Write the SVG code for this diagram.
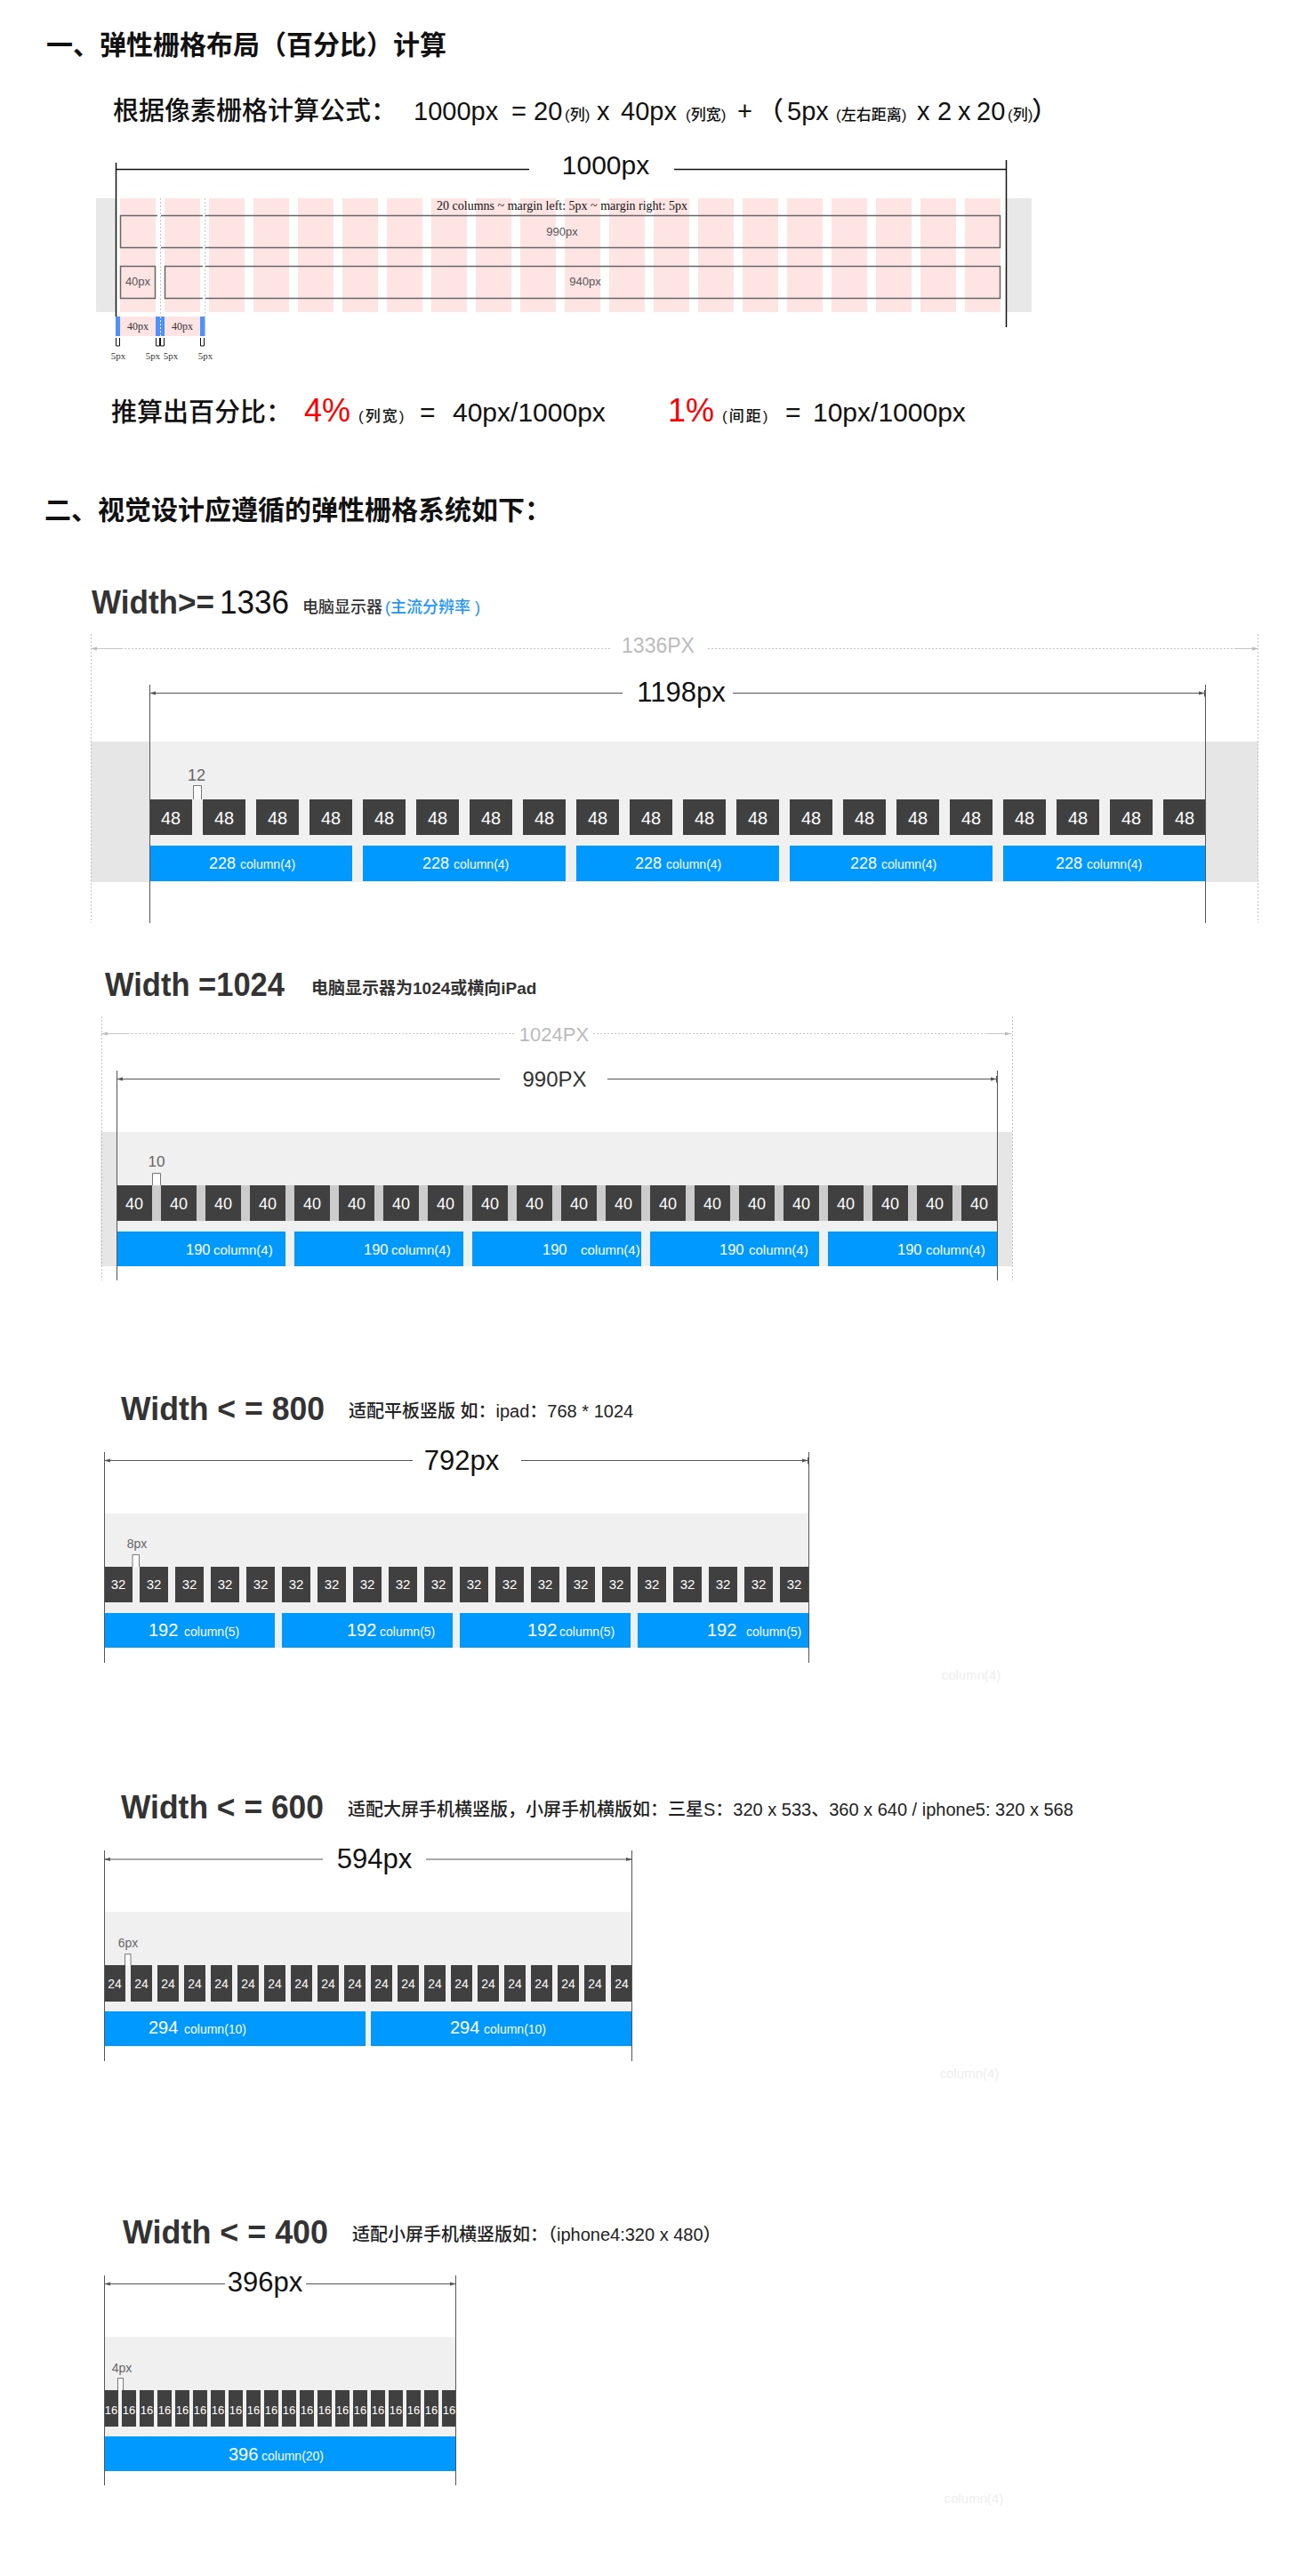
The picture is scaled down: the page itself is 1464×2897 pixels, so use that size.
<svg xmlns="http://www.w3.org/2000/svg" width="1464" height="2897" viewBox="0 0 1464 2897">
<defs>
<style>
.f{font-family:'Liberation Sans','Noto Sans CJK SC',sans-serif}
.s{font-family:'Liberation Serif','DejaVu Serif',serif}
.sq{fill:#404040}
.bar{fill:#0099FF}
.st{fill:#fff;text-anchor:middle;font-family:'Liberation Sans',sans-serif}
.bt{fill:#fff;font-family:'Liberation Sans',sans-serif}
.dl{stroke:#555;stroke-width:1;fill:none}
.vl{stroke:#555;stroke-width:1;fill:none}
.dot{stroke:#c4c4c4;stroke-width:1;stroke-dasharray:2 2;fill:none}
.gl{stroke:#c4c4c4;stroke-width:1;fill:none}
.br{stroke:#777;stroke-width:1;fill:#fff}
.gap{fill:#666;text-anchor:middle;font-family:'Liberation Sans',sans-serif}
.dim{fill:#111;text-anchor:middle;font-family:'Liberation Sans',sans-serif}
.gdim{fill:#bbb;text-anchor:middle;font-family:'Liberation Sans',sans-serif}
.band{fill:#F0F0F0}
.bandd{fill:#E6E6E6}
.pink{fill:#FFE4E4}
.box{fill:none;stroke:#666;stroke-width:1.5}
.faint{fill:#EEEEEE;text-anchor:middle;font-family:'Liberation Sans',sans-serif;font-size:15px}
.hd{font-family:'Liberation Sans',sans-serif;font-weight:700;fill:#333;font-size:36px}
.sub{font-family:'Liberation Sans','Noto Sans CJK SC',sans-serif;fill:#222;font-size:20px;font-weight:500}
</style>
<marker id="ar" viewBox="0 0 7 8" refX="7" refY="4" markerWidth="7" markerHeight="8" markerUnits="userSpaceOnUse" orient="auto-start-reverse"><path d="M0,2 L7,4 L0,6 z" fill="#555"/><path d="M6.5,0 V8" stroke="#555" stroke-width="1"/></marker>
<marker id="arg" viewBox="0 0 7 8" refX="7" refY="4" markerWidth="7" markerHeight="8" markerUnits="userSpaceOnUse" orient="auto-start-reverse"><path d="M0,2 L7,4 L0,6 z" fill="#bbb"/></marker>
</defs>
<rect width="1464" height="2897" fill="#fff"/>

<!-- Section 1 -->
<g id="title1">
<text class="f" x="52" y="61" font-size="30" font-weight="700" fill="#111">一、弹性栅格布局（百分比）计算</text>
</g>
<g id="formula" class="f" fill="#111" font-weight="500">
<text y="135"><tspan x="127" font-size="29">根据像素栅格计算公式：</tspan><tspan x="465" font-size="29">1000px</tspan><tspan x="575" font-size="29">=</tspan><tspan x="600" font-size="29">20</tspan><tspan x="635" font-size="17">(列)</tspan><tspan x="671" font-size="29">x</tspan><tspan x="698" font-size="29">40px</tspan><tspan x="771" font-size="17">(列宽)</tspan><tspan x="829" font-size="29">+</tspan><tspan x="852" font-size="29">（</tspan><tspan x="885" font-size="29">5px</tspan><tspan x="940" font-size="17">(左右距离)</tspan><tspan x="1031" font-size="29">x</tspan><tspan x="1054" font-size="29">2</tspan><tspan x="1077" font-size="29">x</tspan><tspan x="1098" font-size="29">20</tspan><tspan x="1133" font-size="17">(列)</tspan><tspan x="1160" font-size="29">）</tspan></text>
</g>
<g id="grid1000">
<rect x="108" y="223" width="1052" height="128" fill="#E8E8E8"/>
<rect x="130" y="223" width="1001" height="128" fill="#fff"/>
<g class="pink">
<rect x="135" y="223" width="40" height="128"/><rect x="185" y="223" width="40" height="128"/><rect x="235" y="223" width="40" height="128"/><rect x="285" y="223" width="40" height="128"/><rect x="335" y="223" width="40" height="128"/><rect x="385" y="223" width="40" height="128"/><rect x="435" y="223" width="40" height="128"/><rect x="485" y="223" width="40" height="128"/><rect x="535" y="223" width="40" height="128"/><rect x="585" y="223" width="40" height="128"/><rect x="635" y="223" width="40" height="128"/><rect x="685" y="223" width="40" height="128"/><rect x="735" y="223" width="40" height="128"/><rect x="785" y="223" width="40" height="128"/><rect x="835" y="223" width="40" height="128"/><rect x="885" y="223" width="40" height="128"/><rect x="935" y="223" width="40" height="128"/><rect x="985" y="223" width="40" height="128"/><rect x="1035" y="223" width="40" height="128"/><rect x="1085" y="223" width="40" height="128"/>
</g>
<text class="s" x="632" y="236" font-size="14" fill="#111" text-anchor="middle">20 columns ~ margin left: 5px ~ margin right: 5px</text>
<rect class="box" x="135.5" y="242.5" width="989" height="36"/>
<rect class="box" x="135.5" y="299.5" width="39" height="36"/>
<rect class="box" x="185.5" y="299.5" width="939" height="36"/>
<g fill="#fff">
<rect x="177" y="241" width="4" height="3"/><rect x="228" y="241" width="2.5" height="3"/>
<rect x="177" y="277" width="4" height="3"/><rect x="228" y="277" width="2.5" height="3"/>
<rect x="228" y="298" width="2.5" height="3"/><rect x="228" y="334" width="2.5" height="3"/>
</g>
<text x="632" y="265" font-size="13" fill="#555" text-anchor="middle" font-family="'Liberation Sans',sans-serif">990px</text>
<text x="658" y="321" font-size="13" fill="#555" text-anchor="middle" font-family="'Liberation Sans',sans-serif">940px</text>
<text x="155" y="321" font-size="13" fill="#555" text-anchor="middle" font-family="'Liberation Sans',sans-serif">40px</text>
<line x1="180.5" y1="223" x2="180.5" y2="356" class="dot" stroke="#aaa"/>
<line x1="230.5" y1="223" x2="230.5" y2="356" class="dot" stroke="#aaa"/>
<rect x="130" y="356" width="5" height="22" fill="#4D90FE"/>
<rect x="135" y="356" width="40" height="22" fill="#FFE4E4"/>
<rect x="175" y="356" width="10" height="22" fill="#4D90FE"/>
<rect x="185" y="356" width="40" height="22" fill="#FFE4E4"/>
<rect x="225" y="356" width="5.5" height="22" fill="#4D90FE"/>
<line x1="180.5" y1="356" x2="180.5" y2="378" stroke="#fff" stroke-width="1" stroke-dasharray="2 2"/>
<text class="s" x="155" y="371" font-size="12" fill="#333" text-anchor="middle">40px</text>
<text class="s" x="205" y="371" font-size="12" fill="#333" text-anchor="middle">40px</text>
<g fill="none" stroke="#111" stroke-width="1">
<path d="M130.5,380 V389 H134.5 V380"/><path d="M175.5,380 V389 H179.5 V380"/><path d="M180.5,380 V389 H184.5 V380"/><path d="M225.5,380 V389 H229.5 V380"/>
</g>
<g class="s" font-size="11" fill="#333" text-anchor="middle">
<text x="133" y="404">5px</text><text x="172" y="404">5px</text><text x="192" y="404">5px</text><text x="231" y="404">5px</text>
</g>
<text class="dim" x="681" y="196" font-size="30">1000px</text>
</g>
<g id="percent" class="f" font-weight="500" fill="#111">
<text y="474"><tspan x="125" font-size="29">推算出百分比：</tspan><tspan x="342" font-size="36" fill="#FF0000">4%</tspan><tspan x="403" font-size="17" letter-spacing="2">(列宽)</tspan><tspan x="472" font-size="30">=</tspan><tspan x="509" font-size="30">40px/1000px</tspan><tspan x="751" font-size="36" fill="#FF0000">1%</tspan><tspan x="812" font-size="17" letter-spacing="2">(间距)</tspan><tspan x="883" font-size="30">=</tspan><tspan x="914" font-size="30">10px/1000px</tspan></text>
</g>
<g id="title2">
<text class="f" x="50" y="584" font-size="30" font-weight="700" fill="#111">二、视觉设计应遵循的弹性栅格系统如下：</text>
</g>

<!-- Section 1336 -->
<g id="w1336">
<rect class="bandd" x="102" y="834" width="1313" height="158"/>
<rect class="band" x="168" y="834" width="1187" height="158"/>
<text class="hd" x="103" y="690" font-size="37" textLength="138" lengthAdjust="spacingAndGlyphs">Width&gt;=</text>
<text x="247" y="690" font-size="37" fill="#111" font-family="'Liberation Sans',sans-serif" textLength="78" lengthAdjust="spacingAndGlyphs">1336</text>
<text class="f" x="340" y="689" font-size="18" fill="#333" font-weight="500">电脑显示器</text>
<text class="f" x="433" y="689" font-size="18" fill="#2196F3" font-weight="500">(主流分辨率 )</text>
<text class="gdim" x="740" y="734" font-size="23">1336PX</text>
<text class="dim" x="766" y="789" font-size="31">1198px</text>
<g class="sq">
<rect x="168" y="899" width="48" height="40"/><rect x="228" y="899" width="48" height="40"/><rect x="288" y="899" width="48" height="40"/><rect x="348" y="899" width="48" height="40"/><rect x="408" y="899" width="48" height="40"/><rect x="468" y="899" width="48" height="40"/><rect x="528" y="899" width="48" height="40"/><rect x="588" y="899" width="48" height="40"/><rect x="648" y="899" width="48" height="40"/><rect x="708" y="899" width="48" height="40"/><rect x="768" y="899" width="48" height="40"/><rect x="828" y="899" width="48" height="40"/><rect x="888" y="899" width="48" height="40"/><rect x="948" y="899" width="48" height="40"/><rect x="1008" y="899" width="48" height="40"/><rect x="1068" y="899" width="48" height="40"/><rect x="1128" y="899" width="48" height="40"/><rect x="1188" y="899" width="48" height="40"/><rect x="1248" y="899" width="48" height="40"/><rect x="1308" y="899" width="48" height="40"/>
</g>
<text class="st" y="927" font-size="20"><tspan x="192">48</tspan><tspan x="252">48</tspan><tspan x="312">48</tspan><tspan x="372">48</tspan><tspan x="432">48</tspan><tspan x="492">48</tspan><tspan x="552">48</tspan><tspan x="612">48</tspan><tspan x="672">48</tspan><tspan x="732">48</tspan><tspan x="792">48</tspan><tspan x="852">48</tspan><tspan x="912">48</tspan><tspan x="972">48</tspan><tspan x="1032">48</tspan><tspan x="1092">48</tspan><tspan x="1152">48</tspan><tspan x="1212">48</tspan><tspan x="1272">48</tspan><tspan x="1332">48</tspan></text>
<path class="br" d="M217.5,899 V883.5 H226.5 V899"/>
<text class="gap" x="221" y="878" font-size="18">12</text>
<g class="bar">
<rect x="168" y="951" width="228" height="40"/><rect x="408" y="951" width="228" height="40"/><rect x="648" y="951" width="228" height="40"/><rect x="888" y="951" width="228" height="40"/><rect x="1128" y="951" width="228" height="40"/>
</g>
<text class="bt" y="977"><tspan x="235" font-size="18">228</tspan><tspan x="270" font-size="14">column(4)</tspan><tspan x="475" font-size="18">228</tspan><tspan x="510" font-size="14">column(4)</tspan><tspan x="714" font-size="18">228</tspan><tspan x="749" font-size="14">column(4)</tspan><tspan x="956" font-size="18">228</tspan><tspan x="991" font-size="14">column(4)</tspan><tspan x="1187" font-size="18">228</tspan><tspan x="1222" font-size="14">column(4)</tspan></text>
</g>

<!-- Section 1024 -->
<g id="w1024">
<rect class="bandd" x="113" y="1273" width="1025" height="151"/>
<rect class="band" x="131" y="1273" width="990" height="151"/>
<text class="hd" x="118" y="1120" textLength="202" lengthAdjust="spacingAndGlyphs">Width =1024</text>
<text class="f" x="350" y="1118" font-size="19" fill="#333" font-weight="700">电脑显示器为1024或横向iPad</text>
<text class="gdim" x="623" y="1171" font-size="22">1024PX</text>
<text x="623.5" y="1222" font-size="24" fill="#333" text-anchor="middle" font-family="'Liberation Sans',sans-serif">990PX</text>
<rect x="131" y="1333" width="990" height="40" fill="#CCCCCC"/>
<g class="sq">
<rect x="131" y="1333" width="40" height="40"/><rect x="181" y="1333" width="40" height="40"/><rect x="231" y="1333" width="40" height="40"/><rect x="281" y="1333" width="40" height="40"/><rect x="331" y="1333" width="40" height="40"/><rect x="381" y="1333" width="40" height="40"/><rect x="431" y="1333" width="40" height="40"/><rect x="481" y="1333" width="40" height="40"/><rect x="531" y="1333" width="40" height="40"/><rect x="581" y="1333" width="40" height="40"/><rect x="631" y="1333" width="40" height="40"/><rect x="681" y="1333" width="40" height="40"/><rect x="731" y="1333" width="40" height="40"/><rect x="781" y="1333" width="40" height="40"/><rect x="831" y="1333" width="40" height="40"/><rect x="881" y="1333" width="40" height="40"/><rect x="931" y="1333" width="40" height="40"/><rect x="981" y="1333" width="40" height="40"/><rect x="1031" y="1333" width="40" height="40"/><rect x="1081" y="1333" width="40" height="40"/>
</g>
<text class="st" y="1360" font-size="18"><tspan x="151">40</tspan><tspan x="201">40</tspan><tspan x="251">40</tspan><tspan x="301">40</tspan><tspan x="351">40</tspan><tspan x="401">40</tspan><tspan x="451">40</tspan><tspan x="501">40</tspan><tspan x="551">40</tspan><tspan x="601">40</tspan><tspan x="651">40</tspan><tspan x="701">40</tspan><tspan x="751">40</tspan><tspan x="801">40</tspan><tspan x="851">40</tspan><tspan x="901">40</tspan><tspan x="951">40</tspan><tspan x="1001">40</tspan><tspan x="1051">40</tspan><tspan x="1101">40</tspan></text>
<path class="br" d="M171.5,1333 V1319.5 H180.5 V1333"/>
<text class="gap" x="176" y="1312" font-size="17">10</text>
<g class="bar">
<rect x="131" y="1385" width="190" height="39"/><rect x="331" y="1385" width="190" height="39"/><rect x="531" y="1385" width="190" height="39"/><rect x="731" y="1385" width="190" height="39"/><rect x="931" y="1385" width="190" height="39"/>
</g>
<text class="bt" y="1411"><tspan x="209" font-size="16.5">190</tspan><tspan x="240" font-size="15">column(4)</tspan><tspan x="409" font-size="16.5">190</tspan><tspan x="440" font-size="15">column(4)</tspan><tspan x="610" font-size="16.5">190</tspan><tspan x="653" font-size="15">column(4)</tspan><tspan x="809" font-size="16.5">190</tspan><tspan x="842" font-size="15">column(4)</tspan><tspan x="1009" font-size="16.5">190</tspan><tspan x="1041" font-size="15">column(4)</tspan></text>
</g>

<!-- Section 800 -->
<g id="w800">
<rect class="band" x="117" y="1702" width="792" height="151"/>
<text class="hd" x="136" y="1597" textLength="229" lengthAdjust="spacingAndGlyphs">Width &lt; = 800</text>
<text class="sub" x="392" y="1594">适配平板竖版 如：ipad：768 * 1024</text>
<text class="dim" x="519" y="1653" font-size="31">792px</text>
<g class="sq">
<rect x="117" y="1762" width="32" height="40"/><rect x="157" y="1762" width="32" height="40"/><rect x="197" y="1762" width="32" height="40"/><rect x="237" y="1762" width="32" height="40"/><rect x="277" y="1762" width="32" height="40"/><rect x="317" y="1762" width="32" height="40"/><rect x="357" y="1762" width="32" height="40"/><rect x="397" y="1762" width="32" height="40"/><rect x="437" y="1762" width="32" height="40"/><rect x="477" y="1762" width="32" height="40"/><rect x="517" y="1762" width="32" height="40"/><rect x="557" y="1762" width="32" height="40"/><rect x="597" y="1762" width="32" height="40"/><rect x="637" y="1762" width="32" height="40"/><rect x="677" y="1762" width="32" height="40"/><rect x="717" y="1762" width="32" height="40"/><rect x="757" y="1762" width="32" height="40"/><rect x="797" y="1762" width="32" height="40"/><rect x="837" y="1762" width="32" height="40"/><rect x="877" y="1762" width="32" height="40"/>
</g>
<text class="st" y="1787" font-size="15"><tspan x="133">32</tspan><tspan x="173">32</tspan><tspan x="213">32</tspan><tspan x="253">32</tspan><tspan x="293">32</tspan><tspan x="333">32</tspan><tspan x="373">32</tspan><tspan x="413">32</tspan><tspan x="453">32</tspan><tspan x="493">32</tspan><tspan x="533">32</tspan><tspan x="573">32</tspan><tspan x="613">32</tspan><tspan x="653">32</tspan><tspan x="693">32</tspan><tspan x="733">32</tspan><tspan x="773">32</tspan><tspan x="813">32</tspan><tspan x="853">32</tspan><tspan x="893">32</tspan></text>
<path class="br" d="M149,1762 V1748.5 H156.5 V1762"/>
<text class="gap" x="154" y="1741" font-size="14">8px</text>
<g class="bar">
<rect x="117" y="1814" width="192" height="39"/><rect x="317" y="1814" width="192" height="39"/><rect x="517" y="1814" width="192" height="39"/><rect x="717" y="1814" width="192" height="39"/>
</g>
<text class="bt" y="1840"><tspan x="167" font-size="20">192</tspan><tspan x="207" font-size="14">column(5)</tspan><tspan x="390" font-size="20">192</tspan><tspan x="427" font-size="14">column(5)</tspan><tspan x="593" font-size="20">192</tspan><tspan x="629" font-size="14">column(5)</tspan><tspan x="795" font-size="20">192</tspan><tspan x="839" font-size="14">column(5)</tspan></text>
<text class="faint" x="1092" y="1889">column(4)</text>
</g>

<!-- Section 600 -->
<g id="w600">
<rect class="band" x="117" y="2150" width="594" height="151"/>
<text class="hd" x="136" y="2045" textLength="228" lengthAdjust="spacingAndGlyphs">Width &lt; = 600</text>
<text class="sub" x="391" y="2042">适配大屏手机横竖版，小屏手机横版如：三星S：320 x 533、360 x 640 / iphone5: 320 x 568</text>
<text class="dim" x="421" y="2101" font-size="31">594px</text>
<g class="sq">
<rect x="117" y="2210" width="24" height="41"/><rect x="147" y="2210" width="24" height="41"/><rect x="177" y="2210" width="24" height="41"/><rect x="207" y="2210" width="24" height="41"/><rect x="237" y="2210" width="24" height="41"/><rect x="267" y="2210" width="24" height="41"/><rect x="297" y="2210" width="24" height="41"/><rect x="327" y="2210" width="24" height="41"/><rect x="357" y="2210" width="24" height="41"/><rect x="387" y="2210" width="24" height="41"/><rect x="417" y="2210" width="24" height="41"/><rect x="447" y="2210" width="24" height="41"/><rect x="477" y="2210" width="24" height="41"/><rect x="507" y="2210" width="24" height="41"/><rect x="537" y="2210" width="24" height="41"/><rect x="567" y="2210" width="24" height="41"/><rect x="597" y="2210" width="24" height="41"/><rect x="627" y="2210" width="24" height="41"/><rect x="657" y="2210" width="24" height="41"/><rect x="687" y="2210" width="24" height="41"/>
</g>
<text class="st" y="2236" font-size="14"><tspan x="129">24</tspan><tspan x="159">24</tspan><tspan x="189">24</tspan><tspan x="219">24</tspan><tspan x="249">24</tspan><tspan x="279">24</tspan><tspan x="309">24</tspan><tspan x="339">24</tspan><tspan x="369">24</tspan><tspan x="399">24</tspan><tspan x="429">24</tspan><tspan x="459">24</tspan><tspan x="489">24</tspan><tspan x="519">24</tspan><tspan x="549">24</tspan><tspan x="579">24</tspan><tspan x="609">24</tspan><tspan x="639">24</tspan><tspan x="669">24</tspan><tspan x="699">24</tspan></text>
<path class="br" d="M140.5,2210 V2197.5 H147 V2210"/>
<text class="gap" x="144" y="2190" font-size="14">6px</text>
<g class="bar">
<rect x="117" y="2262" width="294" height="39"/><rect x="417" y="2262" width="294" height="39"/>
</g>
<text class="bt" y="2287"><tspan x="167" font-size="20">294</tspan><tspan x="207" font-size="14">column(10)</tspan><tspan x="506" font-size="20">294</tspan><tspan x="544" font-size="14">column(10)</tspan></text>
<text class="faint" x="1090" y="2337">column(4)</text>
</g>

<!-- Section 400 -->
<g id="w400">
<rect class="band" x="117" y="2628" width="396" height="151"/>
<text class="hd" x="138" y="2523" textLength="231" lengthAdjust="spacingAndGlyphs">Width &lt; = 400</text>
<text class="sub" x="396" y="2520">适配小屏手机横竖版如：（iphone4:320 x 480）</text>
<text class="dim" x="298" y="2577" font-size="31">396px</text>
<g class="sq">
<rect x="117" y="2688" width="16" height="41"/><rect x="137" y="2688" width="16" height="41"/><rect x="157" y="2688" width="16" height="41"/><rect x="177" y="2688" width="16" height="41"/><rect x="197" y="2688" width="16" height="41"/><rect x="217" y="2688" width="16" height="41"/><rect x="237" y="2688" width="16" height="41"/><rect x="257" y="2688" width="16" height="41"/><rect x="277" y="2688" width="16" height="41"/><rect x="297" y="2688" width="16" height="41"/><rect x="317" y="2688" width="16" height="41"/><rect x="337" y="2688" width="16" height="41"/><rect x="357" y="2688" width="16" height="41"/><rect x="377" y="2688" width="16" height="41"/><rect x="397" y="2688" width="16" height="41"/><rect x="417" y="2688" width="16" height="41"/><rect x="437" y="2688" width="16" height="41"/><rect x="457" y="2688" width="16" height="41"/><rect x="477" y="2688" width="16" height="41"/><rect x="497" y="2688" width="16" height="41"/>
</g>
<text class="st" y="2715" font-size="13"><tspan x="125">16</tspan><tspan x="145">16</tspan><tspan x="165">16</tspan><tspan x="185">16</tspan><tspan x="205">16</tspan><tspan x="225">16</tspan><tspan x="245">16</tspan><tspan x="265">16</tspan><tspan x="285">16</tspan><tspan x="305">16</tspan><tspan x="325">16</tspan><tspan x="345">16</tspan><tspan x="365">16</tspan><tspan x="385">16</tspan><tspan x="405">16</tspan><tspan x="425">16</tspan><tspan x="445">16</tspan><tspan x="465">16</tspan><tspan x="485">16</tspan><tspan x="505">16</tspan></text>
<path class="br" d="M132.5,2688 V2674.5 H138.5 V2688"/>
<text class="gap" x="137" y="2668" font-size="14">4px</text>
<rect class="bar" x="117" y="2740" width="396" height="39"/>
<text class="bt" y="2767"><tspan x="257" font-size="20">396</tspan><tspan x="294" font-size="14">column(20)</tspan></text>
<text class="faint" x="1095" y="2815">column(4)</text>
</g>

<!-- Connectors: dimension and guide lines -->
<g id="connectors">
<line x1="131" y1="190.5" x2="595" y2="190.5" stroke="#111" stroke-width="1.5"/>
<line x1="758" y1="190.5" x2="1131" y2="190.5" stroke="#111" stroke-width="1.5"/>
<line x1="130.5" y1="183" x2="130.5" y2="356" stroke="#111" stroke-width="1.5"/>
<line x1="1131.5" y1="180" x2="1131.5" y2="368" stroke="#111" stroke-width="1.5"/>

<line class="dot" x1="102.5" y1="713" x2="102.5" y2="1038"/>
<line class="dot" x1="1414.5" y1="713" x2="1414.5" y2="1038"/>
<line class="gl" x1="102" y1="729.5" x2="136" y2="729.5" marker-start="url(#arg)"/>
<line class="dot" x1="136" y1="729.5" x2="687" y2="729.5"/>
<line class="dot" x1="796" y1="729.5" x2="1390" y2="729.5"/>
<line class="gl" x1="1390" y1="729.5" x2="1415" y2="729.5" marker-end="url(#arg)"/>
<line class="dl" x1="168" y1="779.5" x2="700" y2="779.5" marker-start="url(#ar)"/>
<line class="dl" x1="824" y1="779.5" x2="1355" y2="779.5" marker-end="url(#ar)"/>
<line class="vl" x1="168.5" y1="770" x2="168.5" y2="1038"/>
<line class="vl" x1="1355.5" y1="770" x2="1355.5" y2="1038"/>

<line class="dot" x1="114.5" y1="1143" x2="114.5" y2="1440"/>
<line class="dot" x1="1138.5" y1="1143" x2="1138.5" y2="1440"/>
<line class="gl" x1="114" y1="1162.5" x2="144" y2="1162.5" marker-start="url(#arg)"/>
<line class="dot" x1="144" y1="1162.5" x2="578" y2="1162.5"/>
<line class="dot" x1="667" y1="1162.5" x2="1110" y2="1162.5"/>
<line class="gl" x1="1110" y1="1162.5" x2="1137" y2="1162.5" marker-end="url(#arg)"/>
<line class="dl" x1="131" y1="1213.5" x2="562" y2="1213.5" marker-start="url(#ar)"/>
<line class="dl" x1="683" y1="1213.5" x2="1121" y2="1213.5" marker-end="url(#ar)"/>
<line class="vl" x1="131.5" y1="1204" x2="131.5" y2="1440"/>
<line class="vl" x1="1121.5" y1="1204" x2="1121.5" y2="1440"/>

<line class="dl" x1="117" y1="1642.5" x2="464" y2="1642.5" marker-start="url(#ar)"/>
<line class="dl" x1="586" y1="1642.5" x2="909" y2="1642.5" marker-end="url(#ar)"/>
<line class="vl" x1="117.5" y1="1633" x2="117.5" y2="1870"/>
<line class="vl" x1="909.5" y1="1633" x2="909.5" y2="1870"/>

<line class="dl" x1="117" y1="2091" x2="363" y2="2091" marker-start="url(#ar)"/>
<line class="dl" x1="479" y1="2091" x2="711" y2="2091" marker-end="url(#ar)"/>
<line class="vl" x1="117.5" y1="2081" x2="117.5" y2="2318"/>
<line class="vl" x1="710.5" y1="2081" x2="710.5" y2="2318"/>

<line class="dl" x1="117" y1="2568.5" x2="253" y2="2568.5" marker-start="url(#ar)"/>
<line class="dl" x1="344" y1="2568.5" x2="513" y2="2568.5" marker-end="url(#ar)"/>
<line class="vl" x1="117.5" y1="2559" x2="117.5" y2="2795"/>
<line class="vl" x1="512.5" y1="2559" x2="512.5" y2="2795"/>
</g>
</svg>
